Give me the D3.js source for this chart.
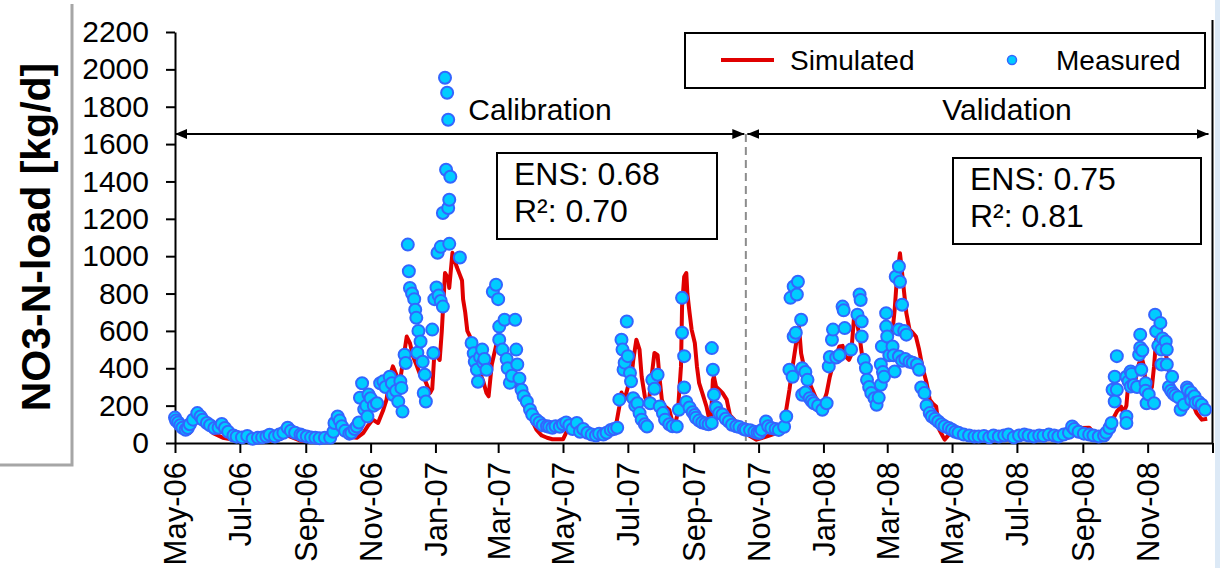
<!DOCTYPE html>
<html>
<head>
<meta charset="utf-8">
<script src="https://cdn.jsdelivr.net/npm/d3@7"></script>
<style>
body { margin: 0; background: #fff; }
svg { display: block; font-family: "Liberation Sans", Arial, sans-serif; }
</style>
</head>
<body>
<div id="chart"></div>
<script>
// axis range and the calibration / validation split
const startDate = new Date(2006, 4, 1);
const endDate = new Date(2009, 0, 1);
const splitDate = new Date(2007, 9, 20);
const yTicks = [0, 200, 400, 600, 800, 1000, 1200, 1400, 1600, 1800, 2000, 2200];

// simulated load, days after 1 May 2006
const simDays = [0,2,8,14,21,26,36,45,54,71,89,106,118,136,149,155,162,171,177,181,186,191,196,199,202,205,209,211,214,218,221,224,227,230,235,240,242,244,249,251,254,257,258,261,265,268,270,271,273,275,280,282,287,290,293,295,298,302,304,307,312,317,321,327,334,340,345,350,355,365,368,373,378,382,387,393,399,406,412,415,418,420,423,426,429,431,434,437,439,442,445,446,448,451,454,456,458,460,465,468,470,473,476,477,479,481,482,484,486,489,491,493,496,500,502,504,506,507,509,512,515,519,522,526,531,536,540,547,554,559,569,572,575,578,581,585,587,589,592,594,597,603,609,613,616,619,622,625,628,631,634,636,639,641,644,647,650,653,657,660,662,666,669,672,675,677,679,682,684,686,688,691,694,697,700,703,707,710,713,716,719,724,728,733,738,747,761,775,789,806,813,827,841,844,849,853,860,865,869,876,879,883,886,890,892,895,896,897,902,907,910,912,913,916,919,921,923,926,930,935,938,942,947,951,954,957,961,966,971];
const simLoad = [140,115,71,55,125,110,53,28,18,12,12,40,12,10,50,71,35,28,53,88,125,107,178,232,355,410,355,302,420,570,535,463,420,375,338,268,290,480,445,600,910,880,830,1018,943,900,870,770,700,600,540,445,375,330,268,250,420,520,553,500,445,380,302,215,142,71,40,28,20,20,55,80,110,80,60,45,35,40,55,100,195,270,232,300,322,440,553,500,355,248,200,232,338,482,470,338,232,200,178,110,88,162,410,730,890,910,800,700,607,535,410,322,268,195,142,110,338,355,302,285,268,232,150,125,90,60,40,18,30,40,60,100,178,285,410,560,623,480,400,380,320,240,200,267,355,420,470,517,520,463,445,470,690,660,570,440,380,302,260,215,322,390,463,535,600,713,873,1016,910,800,695,607,590,570,500,410,322,232,210,195,71,18,45,60,35,25,15,15,20,60,20,20,30,100,90,80,82,50,30,40,88,135,168,195,160,200,268,302,300,428,445,400,285,270,300,410,553,590,535,392,268,240,205,240,285,215,160,125,130];

// measured load, days after 1 May 2006
const measDays = [0,1,3,5,7,10,12,14,17,21,24,26,30,33,37,41,44,47,50,55,58,63,68,73,78,82,86,89,94,98,102,106,109,113,118,120,124,128,132,136,141,146,149,150,153,155,157,160,164,166,169,171,173,174,176,178,180,181,182,184,187,190,193,196,198,202,204,205,208,210,212,213,214,216,217,219,220,221,223,225,226,227,228,229,231,233,234,235,236,242,243,244,246,247,248,250,250,252,252,254,255,256,257,257,258,258,259,268,279,281,282,284,285,287,289,290,291,293,299,302,304,305,305,308,310,312,313,315,317,320,321,322,324,326,328,331,334,336,340,343,346,350,352,355,358,362,365,368,371,374,378,381,384,388,392,396,399,403,406,410,413,416,418,420,421,422,423,425,426,428,429,431,433,435,437,439,442,444,447,449,451,454,456,459,461,465,468,472,474,477,477,479,479,481,484,487,489,490,493,496,499,502,505,505,506,507,509,512,515,518,521,524,528,531,535,537,541,545,548,550,552,556,558,561,565,568,573,575,578,579,581,582,582,584,586,585,589,590,590,593,593,595,597,599,601,605,609,613,615,616,618,619,622,625,628,629,630,636,642,644,645,646,646,648,650,651,653,655,658,660,662,664,664,665,666,667,669,669,670,672,675,676,677,678,681,681,681,682,684,684,686,687,688,691,694,698,700,702,705,707,710,712,715,718,721,724,728,731,734,737,742,747,752,756,761,766,770,775,780,784,789,794,799,803,808,813,817,822,827,831,836,841,844,846,850,855,860,864,869,874,876,879,881,882,884,884,886,886,895,895,895,897,899,899,900,902,905,907,908,908,909,910,913,913,914,916,921,922,923,925,927,928,928,929,932,933,933,935,937,938,939,941,944,946,949,952,953,956,956,959,960,963,966,969];
const measLoad = [136,120,110,95,82,71,80,100,125,160,142,125,107,95,80,82,102,80,60,40,34,30,38,23,28,30,35,44,35,45,55,82,65,55,45,40,35,30,28,25,28,28,60,107,142,120,90,65,50,55,75,88,110,242,320,180,200,142,260,240,200,213,320,330,300,355,320,258,280,222,330,295,168,472,428,1062,919,830,800,770,713,670,483,600,543,435,268,365,222,607,482,770,832,1018,790,760,1050,730,1231,1955,1463,1875,1730,1258,1302,1066,1425,993,535,480,435,392,328,460,500,430,450,392,810,847,770,623,553,500,660,450,400,322,360,660,500,420,345,285,250,222,178,152,124,110,95,90,87,82,90,87,100,110,95,75,107,60,75,55,45,40,50,45,55,70,75,82,232,553,500,392,430,650,465,375,330,240,200,213,160,125,100,88,213,338,290,365,195,160,125,100,90,88,178,777,590,465,297,220,190,165,150,135,120,110,105,100,107,508,392,258,190,160,152,130,115,98,90,85,75,71,68,60,55,55,70,115,90,80,75,70,87,142,392,777,355,838,570,590,863,795,660,400,258,380,270,338,240,225,213,200,178,213,410,460,553,607,458,470,730,710,615,500,687,795,765,650,570,445,400,338,300,267,240,205,243,312,420,517,380,355,623,695,570,470,517,470,383,890,945,607,463,863,740,440,600,450,580,435,430,420,392,297,267,200,160,142,130,115,100,90,80,71,60,55,45,40,35,35,38,30,40,35,40,45,30,40,45,40,35,40,38,45,40,35,45,55,88,75,60,50,45,40,35,40,55,80,107,285,355,222,465,285,142,107,355,330,383,302,370,310,300,473,580,510,392,495,320,280,213,260,213,687,598,520,643,500,420,560,543,500,420,300,280,355,265,255,245,178,205,297,285,270,230,250,215,220,205,178];

// period annotations
const periodLabels = ["Calibration", "Validation"];
const ensValues = ["0.68", "0.75"];
const r2Values = ["0.70", "0.81"];

const width = 1220;
const height = 568;
const svg = d3.select('#chart')
	.append('svg')
	.attr('width', width)
	.attr('height', height);

const x = d3.scaleTime().domain([startDate, endDate]).range([175, 1212.5]);
const y = d3.scaleLinear().domain([0, 2200]).range([443, 32]);
const dayToDate = d => d3.timeDay.offset(startDate, d);

// slide leftovers: grey frame at left, blue strip at right
svg.append("rect").attr("x", 1215).attr("y", 0).attr("width", 5).attr("height", height).attr("fill", "#dce9f6");
svg.append("path").attr("d", "M72,4V465H0").attr("fill", "none").attr("stroke", "#a6a6a6").attr("stroke-width", 3);

// right border of the plot
svg.append("line")
	.attr("x1", x(endDate)).attr("x2", x(endDate))
	.attr("y1", 20).attr("y2", y(0))
	.attr("stroke", "#000").attr("stroke-width", 2);

// axes
const fmt = d3.timeFormat("%b-%y");
const xTicks = d3.timeMonth.every(2).range(startDate, d3.timeDay.offset(endDate, 1));
const xAxis = svg.append("g")
	.attr("transform", `translate(0,${y(0)})`)
	.call(d3.axisBottom(x).tickValues(xTicks).tickFormat(d => d >= endDate ? "" : fmt(d)).tickSize(10).tickSizeOuter(0));
xAxis.selectAll("text")
	.attr("transform", "rotate(-90)")
	.attr("text-anchor", "end")
	.attr("x", -19)
	.attr("y", 0)
	.attr("dy", "0.35em")
	.attr("font-size", 31)
	.attr("fill", "#000");

const yAxis = svg.append("g")
	.attr("transform", `translate(${x(startDate)},0)`)
	.call(d3.axisLeft(y).tickValues(yTicks).tickFormat(d3.format("d")).tickSize(9).tickPadding(17).tickSizeOuter(0));
yAxis.selectAll("text").attr("font-size", 30).attr("fill", "#000");

svg.selectAll(".domain, .tick line").attr("stroke", "#000").attr("stroke-width", 2);

svg.append("text")
	.attr("transform", "translate(50,237) rotate(-90)")
	.attr("text-anchor", "middle")
	.attr("font-size", 41)
	.attr("font-weight", "bold")
	.text("NO3-N-load [kg/d]");

// split line and arrows
svg.append("line")
	.attr("x1", x(splitDate)).attr("x2", x(splitDate))
	.attr("y1", 134).attr("y2", y(0))
	.attr("stroke", "#8c8c8c").attr("stroke-width", 2).attr("stroke-dasharray", "8,5");

const defs = svg.append("defs");
defs.append("marker").attr("id", "head").attr("viewBox", "0 0 12 10")
	.attr("refX", 12).attr("refY", 5).attr("markerWidth", 12).attr("markerHeight", 10)
	.attr("markerUnits", "userSpaceOnUse").attr("orient", "auto-start-reverse")
	.append("path").attr("d", "M0,0L12,5L0,10Z").attr("fill", "#000");

const arrowEnds = [[startDate, splitDate], [splitDate, endDate]];
svg.selectAll(".arrow")
	.data(arrowEnds)
	.enter()
	.append("line")
	.attr("x1", (d, i) => x(d[0]) + (i ? 1.5 : 0))
	.attr("x2", (d, i) => x(d[1]) - (i ? 4 : 1.5))
	.attr("y1", 134).attr("y2", 134)
	.attr("stroke", "#000").attr("stroke-width", 2)
	.attr("marker-start", "url(#head)").attr("marker-end", "url(#head)");

const labelX = [540, 1007];
svg.selectAll(".period")
	.data(periodLabels)
	.enter()
	.append("text")
	.attr("x", (d, i) => labelX[i])
	.attr("y", 120)
	.attr("text-anchor", "middle")
	.attr("font-size", 30)
	.text(d => d);

// stats boxes
const boxes = [{x: 497, y: 153, w: 220, h: 86}, {x: 953, y: 158, w: 248, h: 86}];
boxes.forEach((b, i) => {
	svg.append("rect").attr("x", b.x).attr("y", b.y).attr("width", b.w).attr("height", b.h)
		.attr("fill", "#fff").attr("stroke", "#000").attr("stroke-width", 2);
	svg.append("text").attr("x", b.x + 17).attr("y", b.y + 32).attr("font-size", 32).text("ENS: " + ensValues[i]);
	svg.append("text").attr("x", b.x + 17).attr("y", b.y + 69).attr("font-size", 32).text("R²: " + r2Values[i]);
});

// simulated line
const simData = simDays.map((d, i) => ({date: dayToDate(d), v: simLoad[i]}));
svg.append("path")
	.datum(simData)
	.attr("fill", "none")
	.attr("stroke", "#e00000")
	.attr("stroke-width", 4)
	.attr("stroke-linejoin", "round")
	.attr("d", d3.line().x(d => x(d.date)).y(d => y(d.v)));

// measured points
const measData = measDays.map((d, i) => ({date: dayToDate(d), v: measLoad[i]}));
svg.selectAll(".meas")
	.data(measData)
	.enter()
	.append("circle")
	.attr("cx", d => x(d.date))
	.attr("cy", d => y(d.v))
	.attr("r", 6)
	.attr("fill", "#00ccff")
	.attr("stroke", "#3366ff")
	.attr("stroke-width", 2);

// legend
svg.append("rect").attr("x", 685).attr("y", 33).attr("width", 520).attr("height", 55)
	.attr("fill", "#fff").attr("stroke", "#000").attr("stroke-width", 2);
svg.append("line").attr("x1", 721).attr("x2", 774).attr("y1", 60).attr("y2", 60)
	.attr("stroke", "#e00000").attr("stroke-width", 4);
svg.append("text").attr("x", 790).attr("y", 70).attr("font-size", 28).text("Simulated");
svg.append("circle").attr("cx", 1012).attr("cy", 60).attr("r", 4.5)
	.attr("fill", "#00ccff").attr("stroke", "#3366ff").attr("stroke-width", 1.5);
svg.append("text").attr("x", 1056).attr("y", 70).attr("font-size", 28).text("Measured");
</script>
</body>
</html>
